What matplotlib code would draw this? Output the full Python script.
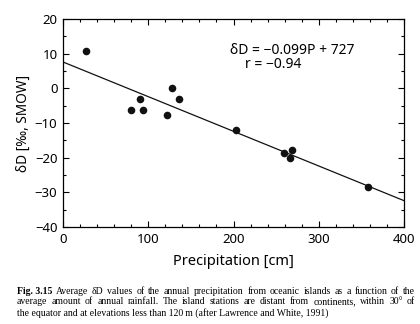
import matplotlib
matplotlib.use('Agg')
import matplotlib.pyplot as plt
import numpy as np

# values
precip = [26.6, 79.8, 90.8, 93.9, 122.5, 127.6, 136.2, 203.5, 259.5, 266.1, 268.9, 357.3]
delta_d = [10.8, -6.3, -3.0, -6.3, -7.7, 0.2, -3.0, -12.0, -18.6, -20.0, -17.7, -28.6]
fit_slope = -0.100
fit_intercept = 7.6
fit_range = [0, 400]

x_ticks = [0, 100, 200, 300, 400]
y_ticks = [-40, -30, -20, -10, 0, 10, 20]

caption_lines = [
	['Fig. 3.15', 'Average', 'δD', 'values', 'of', 'the', 'annual', 'precipitation', 'from', 'oceanic',
	 'islands', 'as', 'a', 'function', 'of', 'the'],
	['average', 'amount', 'of', 'annual', 'rainfall.', 'The', 'island', 'stations', 'are', 'distant',
	 'from', 'continents,', 'within', '30°', 'of'],
	['the equator and at elevations less than 120\u2009m (after Lawrence and White, 1991)'],
]

W, H = 420, 324
plt.rcParams['font.family'] = ['Noto Sans', 'DejaVu Sans']
plt.rcParams['axes.linewidth'] = 0.9

fig = plt.figure(figsize=(W / 100, H / 100), dpi=100)
ax = fig.add_axes([63 / W, 1 - 227 / H, (404 - 63) / W, (227 - 19) / H])

ax.scatter(precip, delta_d, s=30, color='#111111', zorder=3, linewidths=0)
fx = np.array(fit_range, dtype=float)
ax.plot(fx, fit_slope * fx + fit_intercept, color='#111111', lw=0.9)

ax.set_xlim(0, 400)
ax.set_ylim(-40, 20)
ax.set_xticks(x_ticks)
ax.set_yticks(y_ticks)
ax.set_xticks(np.arange(0, 401, 20), minor=True)
ax.set_yticks(np.arange(-40, 21, 5), minor=True)
ax.tick_params(which='both', direction='in', top=True, right=True, width=0.8, labelsize=9.5)
ax.tick_params(axis='x', pad=4)
ax.tick_params(axis='y', pad=4)
ax.tick_params(which='major', length=4)
ax.tick_params(which='minor', length=2.5)

ax.set_xlabel('Precipitation [cm]', fontsize=10.5, labelpad=6)
ax.set_ylabel('δD [‰, SMOW]', fontsize=9.8, labelpad=3)

ax.text(230 / W, 1 - 50 / H, 'δD = \u22120.099P + 727', transform=fig.transFigure,
		fontsize=10, va='center', ha='left')
ax.text(245 / W, 1 - 64 / H, 'r = \u22120.94', transform=fig.transFigure,
		fontsize=10, va='center', ha='left')

# caption, justified like the book page
renderer = fig.canvas.get_renderer()
x0, x1 = 17, 415
line_y = [291, 302, 313]
for n, words in enumerate(caption_lines):
	texts = []
	for i, w in enumerate(words):
		bold = (n == 0 and i == 0)
		t = fig.text(0, 1 - line_y[n] / H, w, fontsize=7.0, family='Liberation Serif',
					 fontweight='bold' if bold else 'normal', va='center', ha='left')
		texts.append(t)
	widths = [t.get_window_extent(renderer).width for t in texts]
	if len(texts) > 1:
		gap = (x1 - x0 - sum(widths)) / (len(texts) - 1)
	else:
		gap = 0
	x = x0
	for t, w in zip(texts, widths):
		t.set_x(x / W)
		x += w + gap

fig.savefig('out.png', dpi=100)
